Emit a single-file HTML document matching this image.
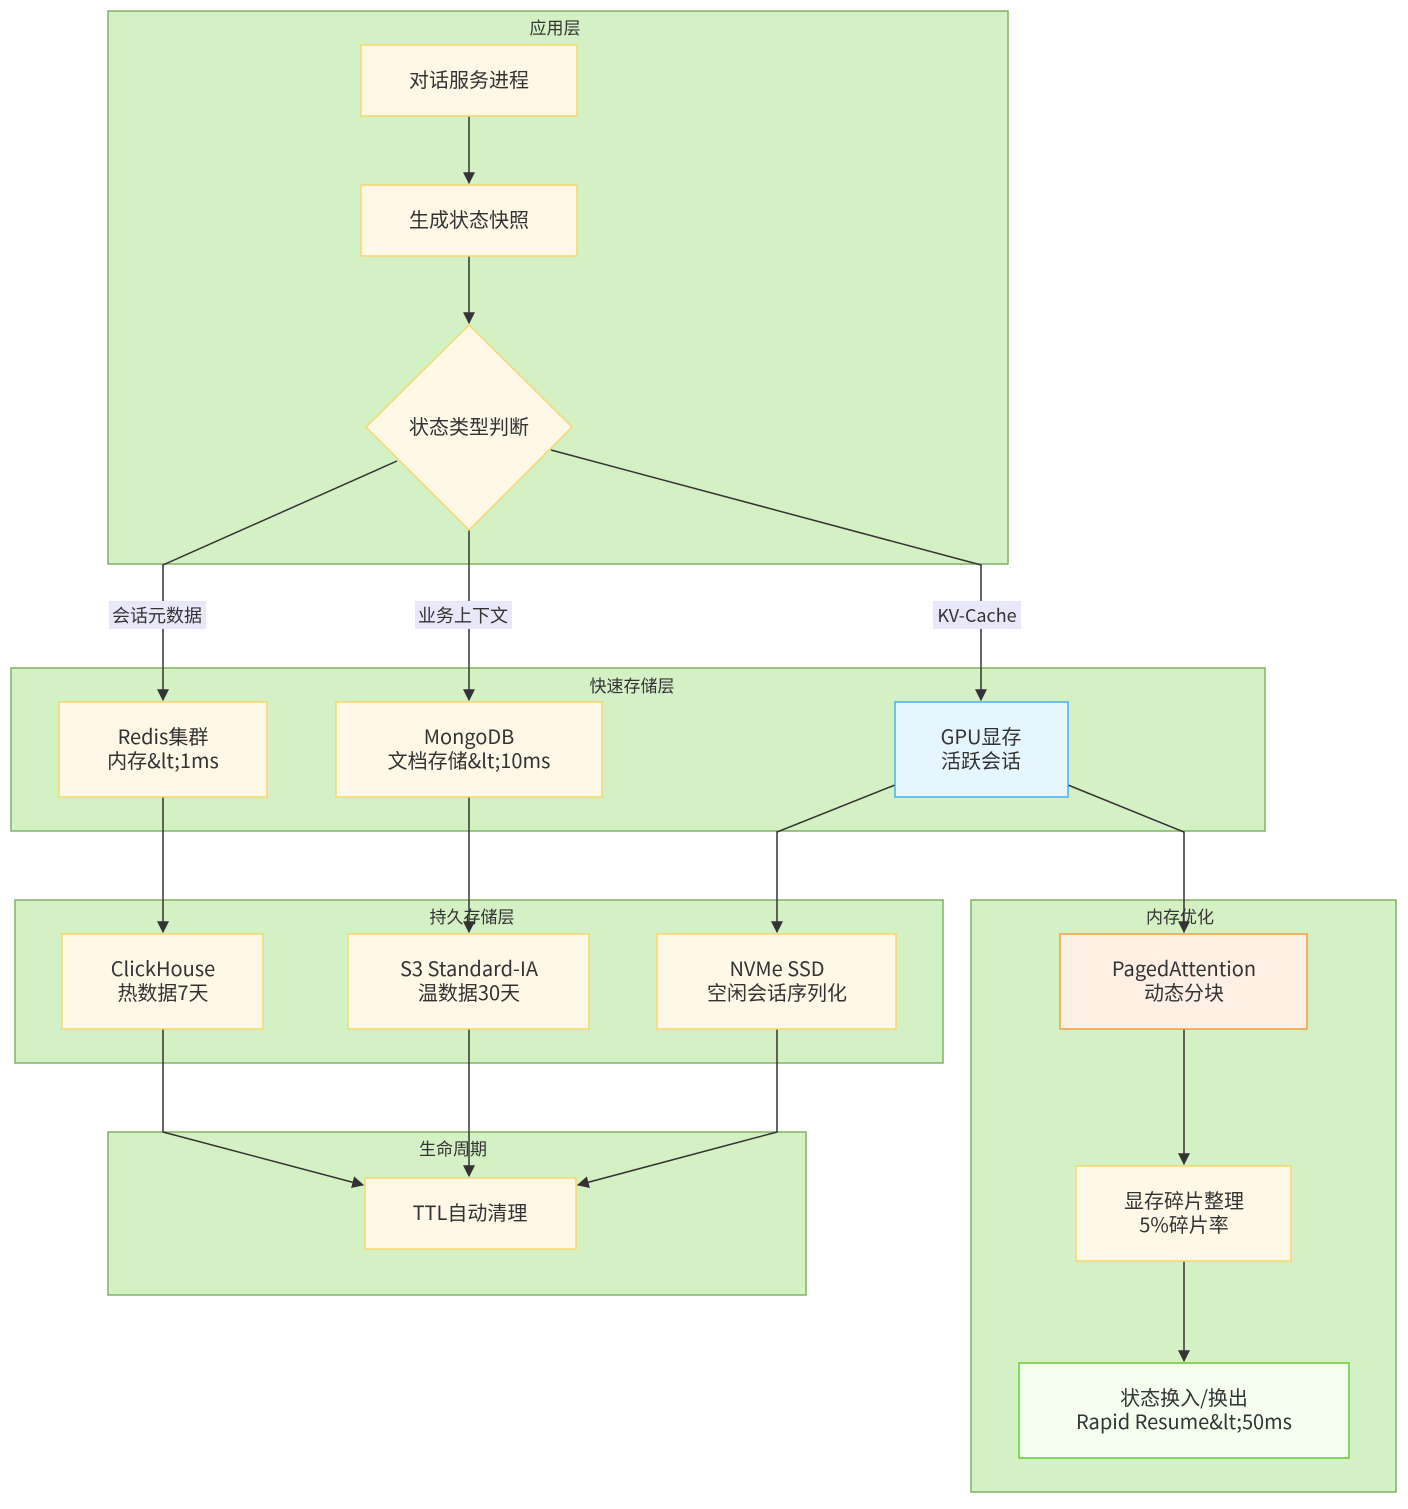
<!DOCTYPE html>
<html><head><meta charset="utf-8"><style>
html,body{margin:0;padding:0;background:#fff}
text{font-family:"Noto Sans CJK SC","Liberation Sans",sans-serif;fill:#333}
</style></head><body>
<svg width="1408" height="1504" viewBox="0 0 1408 1504" xmlns="http://www.w3.org/2000/svg">
<defs><marker id="a" viewBox="0 0 10 10" refX="9" refY="5" markerWidth="8" markerHeight="8" orient="auto"><path d="M0,0L10,5L0,10z" fill="#333"/></marker></defs>
<g fill="#d4f1c5" stroke="#82b366" stroke-width="1.5">
<rect x="108" y="11" width="900" height="553"/>
<rect x="11" y="668" width="1254" height="163"/>
<rect x="15" y="900" width="928" height="163"/>
<rect x="971" y="900" width="425" height="592"/>
<rect x="108" y="1132" width="698" height="163"/>
</g>
<g font-size="17" text-anchor="middle">
<text x="555" y="34">应用层</text>
<text x="632" y="692">快速存储层</text>
<text x="472" y="923">持久存储层</text>
<text x="1180" y="923">内存优化</text>
<text x="453" y="1155">生命周期</text>
</g>
<g fill="none" stroke="#333" stroke-width="1.5">
<path d="M469,116V183" marker-end="url(#a)"/>
<path d="M469,256V323" marker-end="url(#a)"/>
<path d="M397,461L163,565V700" marker-end="url(#a)"/>
<path d="M469,530V700" marker-end="url(#a)"/>
<path d="M551,450L981,565V700" marker-end="url(#a)"/>
<path d="M163,797V932" marker-end="url(#a)"/>
<path d="M469,797V932" marker-end="url(#a)"/>
<path d="M895,785L777,832V932" marker-end="url(#a)"/>
<path d="M1068,785L1184,832V932" marker-end="url(#a)"/>
<path d="M163,1029V1132L363,1185" marker-end="url(#a)"/>
<path d="M469,1029V1176" marker-end="url(#a)"/>
<path d="M777,1029V1132L578,1185" marker-end="url(#a)"/>
<path d="M1184,1029V1164" marker-end="url(#a)"/>
<path d="M1184,1261V1361" marker-end="url(#a)"/>
</g>
<g fill="#e8e8fa">
<rect x="109" y="601" width="97" height="28"/>
<rect x="415" y="601" width="97" height="28"/>
<rect x="933" y="601" width="88" height="28"/>
</g>
<g font-size="18" text-anchor="middle">
<text x="157" y="622">会话元数据</text>
<text x="463" y="622">业务上下文</text>
<text x="977" y="622">KV-Cache</text>
</g>
<g fill="#fff8e6" stroke="#f5d76e" stroke-width="1.5">
<rect x="361" y="45" width="216" height="71"/>
<rect x="361" y="185" width="216" height="71"/>
<polygon points="469,325 572,427 469,530 366,427"/>
<rect x="59" y="702" width="208" height="95"/>
<rect x="336" y="702" width="266" height="95"/>
<rect x="62" y="934" width="201" height="95"/>
<rect x="348" y="934" width="241" height="95"/>
<rect x="657" y="934" width="239" height="95"/>
<rect x="1076" y="1166" width="215" height="95"/>
<rect x="365" y="1178" width="211" height="71"/>
</g>
<rect x="895" y="702" width="173" height="95" fill="#e6f6ff" stroke="#4aaff0" stroke-width="1.5"/>
<rect x="1060" y="934" width="247" height="95" fill="#fff0e6" stroke="#f0a040" stroke-width="1.5"/>
<rect x="1019" y="1363" width="330" height="95" fill="#f5fff0" stroke="#66cc33" stroke-width="1.5"/>
<g font-size="20" text-anchor="middle">
<text x="469" y="87">对话服务进程</text>
<text x="469" y="227">生成状态快照</text>
<text x="469" y="434">状态类型判断</text>
<text x="163" y="744">Redis集群</text><text x="163" y="768">内存&amp;lt;1ms</text>
<text x="469" y="744">MongoDB</text><text x="469" y="768">文档存储&amp;lt;10ms</text>
<text x="981" y="744">GPU显存</text><text x="981" y="768">活跃会话</text>
<text x="163" y="976">ClickHouse</text><text x="163" y="1000">热数据7天</text>
<text x="469" y="976">S3 Standard-IA</text><text x="469" y="1000">温数据30天</text>
<text x="777" y="976">NVMe SSD</text><text x="777" y="1000">空闲会话序列化</text>
<text x="1184" y="976">PagedAttention</text><text x="1184" y="1000">动态分块</text>
<text x="1184" y="1208">显存碎片整理</text><text x="1184" y="1232">5%碎片率</text>
<text x="1184" y="1405">状态换入/换出</text><text x="1184" y="1429">Rapid Resume&amp;lt;50ms</text>
<text x="470" y="1220">TTL自动清理</text>
</g>
</svg>
</body></html>
